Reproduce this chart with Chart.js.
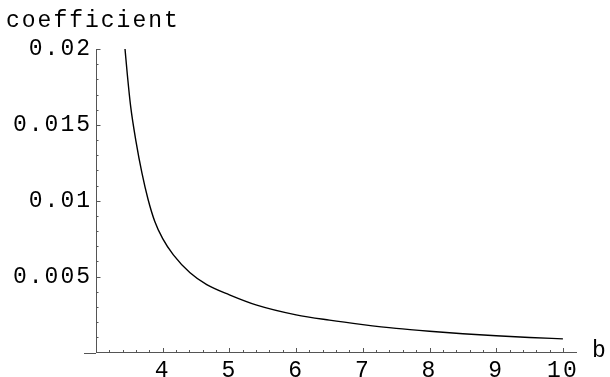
<!DOCTYPE html>
<html>
<head>
<meta charset="utf-8">
<script src="https://cdn.jsdelivr.net/npm/chart.js@4/dist/chart.umd.min.js"></script>
<style>
  html, body { margin: 0; padding: 0; background: #fff; }
  canvas { display: block; }
</style>
</head>
<body>
<canvas id="c" width="610" height="377"></canvas>
<script>
// ---- data ----
const bValues = [3.435, 3.47, 3.52, 3.60, 3.69, 3.78, 3.88, 4.0, 4.16, 4.41, 4.66, 5.0, 5.41, 6.0, 6.5, 7.0, 7.5, 8.0, 8.5, 9.0, 9.5, 10.0];
const coefValues = [0.0200, 0.0183, 0.0162, 0.0139, 0.0118, 0.0101, 0.00865, 0.00750, 0.00643, 0.00525, 0.00447, 0.00380, 0.00312, 0.00248, 0.00213, 0.00184, 0.00159, 0.00140, 0.00124, 0.00110, 0.00099, 0.00090];
const xTicks = [4, 5, 6, 7, 8, 9, 10];
const xTickLabels = ["4", "5", "6", "7", "8", "9", "10"];
const yTicks = [0.005, 0.01, 0.015, 0.02];
const yTickLabels = ["0.005", "0.01", "0.015", "0.02"];
const yAxisLabel = "coefficient";
const xAxisLabel = "b";

const FONT = "'Liberation Mono', 'DejaVu Sans Mono', monospace";
const AXIS_COLOR = '#555';

const extras = {
  id: 'extras',
  beforeDraw(chart) {
    chart.ctx.letterSpacing = '2px';
  },
  afterDraw(chart) {
    const ctx = chart.ctx;
    const xs = chart.scales.x, ys = chart.scales.y;
    const x0 = xs.getPixelForValue(xs.min);
    const y0 = ys.getPixelForValue(0);
    ctx.save();
    ctx.strokeStyle = AXIS_COLOR;
    ctx.lineWidth = 1;
    // axis extension left of the vertical axis
    ctx.beginPath();
    ctx.moveTo(x0 - 12, Math.round(y0) + 0.5);
    ctx.lineTo(x0, Math.round(y0) + 0.5);
    ctx.stroke();
    // x tick marks (inside)
    ctx.beginPath();
    for (let k = 16; k <= 50; k++) {
      const v = k / 5;
      const px = Math.round(xs.getPixelForValue(v)) + 0.5;
      const len = (k % 5 === 0) ? 4.5 : 2.5;
      ctx.moveTo(px, y0);
      ctx.lineTo(px, y0 - len);
    }
    // y tick marks (inside)
    for (let k = 1; k <= 20; k++) {
      const v = k / 1000;
      const py = Math.round(ys.getPixelForValue(v)) + 0.5;
      const len = (k % 5 === 0) ? 4.5 : 2.5;
      ctx.moveTo(x0, py);
      ctx.lineTo(x0 + len, py);
    }
    ctx.stroke();
    // axis labels
    ctx.fillStyle = '#000';
    ctx.font = "23px " + FONT;
    ctx.letterSpacing = '2px';
    ctx.textAlign = 'left';
    ctx.textBaseline = 'alphabetic';
    ctx.fillText(yAxisLabel, 6, 27);
    ctx.fillText(xAxisLabel, 592, 357);
    ctx.restore();
  }
};

new Chart(document.getElementById('c'), {
  type: 'scatter',
  data: {
    datasets: [{
      data: bValues.map((b, i) => ({ x: b, y: coefValues[i] })),
      showLine: true,
      borderColor: '#000',
      borderWidth: 1.4,
      pointRadius: 0,
      fill: false,
      cubicInterpolationMode: 'monotone'
    }]
  },
  options: {
    responsive: false,
    animation: false,
    devicePixelRatio: 1,
    layout: { padding: { left: 0, top: 49, right: 34, bottom: 0 } },
    plugins: { legend: { display: false }, tooltip: { enabled: false }, title: { display: false } },
    scales: {
      x: {
        type: 'linear',
        position: 'bottom',
        min: 3,
        max: 10.196,
        afterFit(s) { s.height = 24.5; },
        afterBuildTicks(s) { s.ticks = xTicks.map(v => ({ value: v })); },
        grid: { display: false, drawTicks: false },
        border: { display: true, color: AXIS_COLOR, width: 1 },
        ticks: {
          color: '#000',
          font: { family: FONT, size: 23 },
          padding: 5,
          maxRotation: 0,
          autoSkip: false,
          callback: (v, i) => xTickLabels[i]
        }
      },
      y: {
        type: 'linear',
        position: 'left',
        min: 0,
        max: 0.02,
        afterFit(s) { s.width = 96; },
        afterBuildTicks(s) { s.ticks = yTicks.map(v => ({ value: v })); },
        grid: { display: false, drawTicks: false },
        border: { display: true, color: AXIS_COLOR, width: 1 },
        ticks: {
          color: '#000',
          font: { family: FONT, size: 23 },
          padding: 4,
          autoSkip: false,
          callback: (v, i) => yTickLabels[i]
        }
      }
    }
  },
  plugins: [extras]
});
</script>
</body>
</html>
